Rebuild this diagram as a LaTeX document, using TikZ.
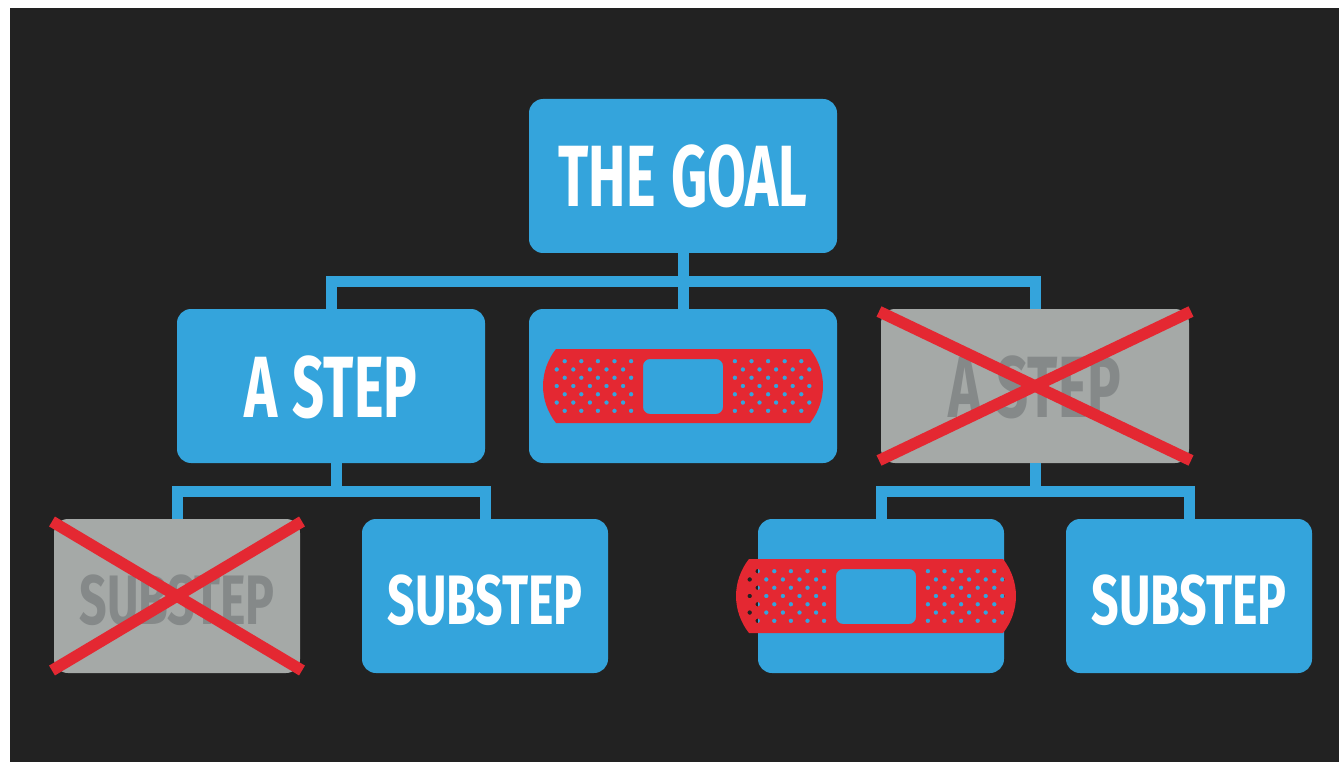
\documentclass[tikz,border=0pt]{standalone}
\usepackage{fontspec}
\newfontfamily\bigfont[FakeStretch=0.645,WordSpace=1.15]{Fira Sans}
\newfontfamily\smallfont[FakeStretch=0.69]{Fira Sans}
\definecolor{boardgray}{HTML}{222222}
\definecolor{boxblue}{HTML}{34A4DC}
\definecolor{patchred}{HTML}{E42832}
\definecolor{deadgray}{HTML}{A5A9A7}
\definecolor{deadtext}{HTML}{858989}
\tikzset{
  box/.style={fill=boxblue,text=white,rounded corners=14,inner sep=0,outer sep=0,text depth=0},
  bigbox/.style={box,minimum width=308,minimum height=154,text height=62,font=\bigfont\fontsize{87}{87}\selectfont\bfseries},
  smallbox/.style={box,minimum width=246,minimum height=154,text height=56,font=\smallfont\fontsize{70}{70}\selectfont\bfseries},
  dead/.style={fill=deadgray,text=deadtext},
  link/.style={draw=boxblue,line width=11},
  crossline/.style={draw=patchred,line width=11.5}
}
\newcommand{\bandage}{
\fill[patchred,even odd rule] (-127,-37)--(127,-37) .. controls (144.3,-15) and (144.3,15) .. (127,37)--(-127,37) .. controls (-144.3,15) and (-144.3,-15) .. (-127,-37)--cycle
  [rounded corners=7] (-40,-27) rectangle (40,28)
  [rounded corners=0]
  \foreach \row in {-3,-1,1,3} {
    \foreach \col in {0,...,4} {
      (-118.3+16.6*\col,8.27*\row) circle (2.3) (118.3-16.6*\col,8.27*\row) circle (2.3)
    }
  }
  \foreach \row in {-2,0,2} {
    \foreach \col in {0,...,4} {
      (-126.3+16.6*\col,8.27*\row) circle (2.3) (126.3-16.6*\col,8.27*\row) circle (2.3)
    }
  };
}
\begin{document}
\begin{tikzpicture}[x=1pt,y=-1pt]
\useasboundingbox (0,0) rectangle (1339,762);
\fill[white] (0,0) rectangle (1339,762);
\fill[boardgray] (10,8) rectangle (1339,762);

\node[bigbox] (goal) at (683,176) {THE GOAL};
\node[bigbox] (stepa) at (331,386) {A STEP};
\node[bigbox] (patcha) at (683,386) {};
\node[bigbox,dead] (stepc) at (1035,386) {A STEP};
\node[smallbox,dead] (subx) at (177,596) {SUBSTEP};
\node[smallbox] (subs) at (485,596) {SUBSTEP};
\node[smallbox] (patchb) at (881,596) {};
\node[smallbox] (subr) at (1189,596) {SUBSTEP};

\coordinate (busa) at (683,281);
\coordinate (busb) at (336,491);
\coordinate (busc) at (1035,491);

\draw[link] (goal.south)--(patcha.north);
\draw[link] (stepa.north) |- (busa) -| (stepc.north);
\draw[link] (busb |- stepa.south)--(busb);
\draw[link] (subx.north) |- (busb) -| (subs.north);
\draw[link] (stepc.south)--(busc);
\draw[link] (patchb.north) |- (busc) -| (subr.north);

\begin{scope}[shift={(patcha.center)}]
\bandage
\end{scope}
\begin{scope}[shift={([xshift=-5]patchb.center)}]
\bandage
\end{scope}

\draw[crossline] ([shift={(-2,2.5)}]stepc.north west)--([shift={(2,-2.5)}]stepc.south east);
\draw[crossline] ([shift={(2,2.5)}]stepc.north east)--([shift={(-2,-2.5)}]stepc.south west);
\draw[crossline] ([shift={(-2,2.5)}]subx.north west)--([shift={(2,-2.5)}]subx.south east);
\draw[crossline] ([shift={(2,2.5)}]subx.north east)--([shift={(-2,-2.5)}]subx.south west);
\end{tikzpicture}
\end{document}
